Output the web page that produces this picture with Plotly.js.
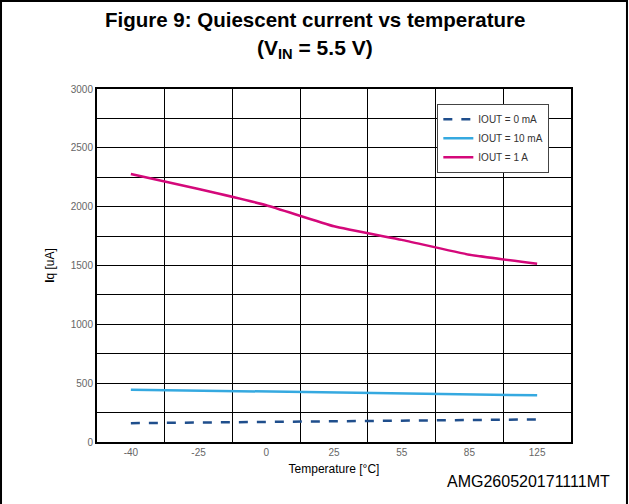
<!DOCTYPE html>
<html>
<head>
<meta charset="utf-8">
<script src="https://cdn.plot.ly/plotly-3.0.1.min.js"></script>
<style>
  html, body { margin: 0; padding: 0; background: #fff; }
  #chart { width: 629px; height: 504px; }
</style>
</head>
<body>
<div id="chart"></div>
<script>
const temperatures = ["-40", "-25", "0", "25", "55", "85", "125"];
const iq0mA  = [160, 165, 170, 175, 180, 185, 192];
const iq10mA = [445, 437, 428, 420, 412, 403, 397];
const iq1A   = [2277, 2150, 2012, 1833, 1718, 1592, 1515];
const seriesNames = ["IOUT = 0 mA", "IOUT = 10 mA", "IOUT = 1 A"];
const titleLines = ["Figure 9: Quiescent current vs temperature", "(V<sub>IN</sub> = 5.5 V)"];

const traces = [
  { x: temperatures, y: iq0mA, name: seriesNames[0], type: "scatter", mode: "lines",
    line: { color: "#1f4e8c", width: 2.5, dash: "dash" } },
  { x: temperatures, y: iq10mA, name: seriesNames[1], type: "scatter", mode: "lines",
    line: { color: "#35a9e0", width: 2.5 } },
  { x: temperatures, y: iq1A, name: seriesNames[2], type: "scatter", mode: "lines",
    line: { color: "#d4087a", width: 2.5, shape: "spline", smoothing: 0.4 } }
];

const layout = {
  width: 629, height: 504,
  margin: { l: 97, r: 58, t: 89, b: 62 },
  paper_bgcolor: "#fff", plot_bgcolor: "#fff",
  font: { family: "Liberation Sans, Arial, sans-serif", color: "#000" },
  xaxis: {
    type: "category",
    categoryorder: "array", categoryarray: temperatures,
    range: [-0.5, 6.5],
    tickson: "boundaries",
    showgrid: true, gridcolor: "#000", gridwidth: 1,
    ticks: "", ticklen: 0,
    showline: true, linecolor: "#000", linewidth: 2, mirror: true,
    zeroline: false,
    tickfont: { size: 10, color: "#666" },
    title: { text: "Temperature [°C]", font: { size: 12, color: "#000" }, standoff: 8 }
  },
  yaxis: {
    range: [0, 3000],
    dtick: 500, tick0: 0,
    showgrid: true, gridcolor: "#000", gridwidth: 1,
    minor: { dtick: 250, showgrid: true, gridcolor: "#000", gridwidth: 1, ticks: "" },
    ticks: "",
    showline: true, linecolor: "#000", linewidth: 2, mirror: true,
    zeroline: false,
    tickfont: { size: 10, color: "#666" },
    title: { text: "<b>I</b>q [uA]", font: { size: 12, color: "#000" }, standoff: 14 }
  },
  legend: {
    x: 0.718, y: 0.958, xanchor: "left", yanchor: "top",
    bgcolor: "#fff", bordercolor: "#444", borderwidth: 1,
    font: { size: 10, color: "#333" },
    tracegroupgap: 0, itemwidth: 30
  },
  showlegend: true,
  shapes: [{
    type: "rect", xref: "paper", yref: "paper",
    x0: -0.2025, x1: 1.1181, y0: -0.3, y1: 1.2493,
    line: { color: "#000", width: 2 }, fillcolor: "rgba(0,0,0,0)", layer: "above"
  }],
  annotations: [
    { text: "<b>" + titleLines[0] + "</b>", xref: "paper", yref: "paper",
      x: 0.459, y: 1.1955, xanchor: "center", yanchor: "middle", showarrow: false,
      font: { size: 20.5, color: "#000" } },
    { text: "<b>" + titleLines[1] + "</b>", xref: "paper", yref: "paper",
      x: 0.459, y: 1.1133, xanchor: "center", yanchor: "middle", showarrow: false,
      font: { size: 21, color: "#000" } },
    { text: "AMG260520171111MT", xref: "paper", yref: "paper",
      x: 1.0865, y: -0.1105, xanchor: "right", yanchor: "middle",
      showarrow: false, font: { size: 16, color: "#000" } }
  ]
};

Plotly.newPlot("chart", traces, layout, { displayModeBar: false, staticPlot: true });
</script>
</body>
</html>
